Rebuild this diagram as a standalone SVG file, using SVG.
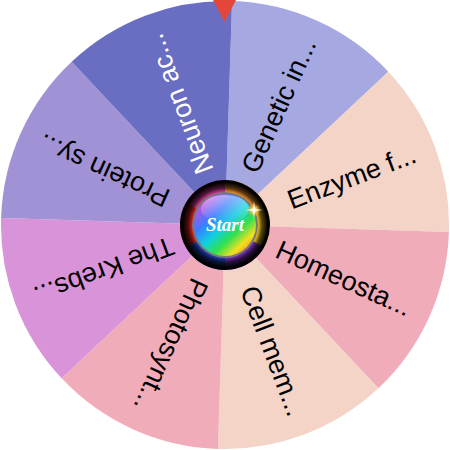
<svg xmlns="http://www.w3.org/2000/svg" width="450" height="450" viewBox="0 0 450 450">
<defs>
<style>
.lbl{font-family:"Liberation Sans",Arial,sans-serif;font-size:27px;text-anchor:end;dominant-baseline:central;fill:#000}
.w{fill:#fff}
</style>
<radialGradient id="ringShade" cx="225" cy="225" r="45" gradientUnits="userSpaceOnUse">
<stop offset="0.72" stop-color="#000" stop-opacity="0"/>
<stop offset="0.82" stop-color="#000" stop-opacity="0.65"/>
<stop offset="0.95" stop-color="#000" stop-opacity="1"/>
</radialGradient>
<linearGradient id="ball" x1="200" y1="198" x2="250" y2="252" gradientUnits="userSpaceOnUse">
<stop offset="0" stop-color="#f040d8"/>
<stop offset="0.3" stop-color="#3a7cff"/>
<stop offset="0.5" stop-color="#10d0e0"/>
<stop offset="0.68" stop-color="#30e050"/>
<stop offset="0.85" stop-color="#f0e020"/>
<stop offset="1" stop-color="#ff8020"/>
</linearGradient>
<linearGradient id="gloss" x1="0" y1="0" x2="0" y2="1">
<stop offset="0" stop-color="#fff" stop-opacity="0.45"/>
<stop offset="1" stop-color="#fff" stop-opacity="0"/>
</linearGradient>
<radialGradient id="spark" cx="0.5" cy="0.5" r="0.5">
<stop offset="0" stop-color="#fff"/>
<stop offset="0.3" stop-color="#ffe070"/>
<stop offset="1" stop-color="#ff9000" stop-opacity="0"/>
</radialGradient>
</defs>
<g id="wheel">
<g id="seg-genetic"><path d="M225 225L232.04 1.11A224 224 0 0 1 388.30 71.67Z" fill="#a5a8e1"/><text class="lbl" transform="translate(225 225) rotate(-65.7)" x="203">Genetic in...</text></g>
<g id="seg-enzyme"><path d="M225 225L388.30 71.67A224 224 0 0 1 448.89 232.04Z" fill="#f3d4c7"/><text class="lbl" transform="translate(225 225) rotate(-20.7)" x="203">Enzyme f...</text></g>
<g id="seg-homeostasis"><path d="M225 225L448.89 232.04A224 224 0 0 1 378.33 388.30Z" fill="#f1acba"/><text class="lbl" transform="translate(225 225) rotate(24.3)" x="203">Homeosta...</text></g>
<g id="seg-cell"><path d="M225 225L378.33 388.30A224 224 0 0 1 217.96 448.89Z" fill="#f3d4c7"/><text class="lbl" transform="translate(225 225) rotate(69.3)" x="203">Cell mem...</text></g>
<g id="seg-photo"><path d="M225 225L217.96 448.89A224 224 0 0 1 61.70 378.33Z" fill="#f1acba"/><text class="lbl" transform="translate(225 225) rotate(114.3)" x="203">Photosynt...</text></g>
<g id="seg-krebs"><path d="M225 225L61.70 378.33A224 224 0 0 1 1.11 217.96Z" fill="#d993d8"/><text class="lbl" transform="translate(225 225) rotate(159.3)" x="203">The Krebs...</text></g>
<g id="seg-protein"><path d="M225 225L1.11 217.96A224 224 0 0 1 71.67 61.70Z" fill="#a192d5"/><text class="lbl" transform="translate(225 225) rotate(204.3)" x="203">Protein sy...</text></g>
<g id="seg-neuron"><path d="M225 225L71.67 61.70A224 224 0 0 1 232.04 1.11Z" fill="#696ec3"/><text class="lbl w" transform="translate(225 225) rotate(249.3)" x="203">Neuron ac...</text></g>
</g>
<g id="hub">
<g transform="translate(225 225)">
<path d="M0 0L0 -45A45 45 0 0 1 38.97 -22.5Z" fill="#ff9a30"/>
<path d="M0 0L38.97 -22.5A45 45 0 0 1 38.97 22.5Z" fill="#ffd020"/>
<path d="M0 0L38.97 22.5A45 45 0 0 1 0 45Z" fill="#8030c0"/>
<path d="M0 0L0 45A45 45 0 0 1 -38.97 22.5Z" fill="#2040c0"/>
<path d="M0 0L-38.97 22.5A45 45 0 0 1 -38.97 -22.5Z" fill="#e02020"/>
<path d="M0 0L-38.97 -22.5A45 45 0 0 1 0 -45Z" fill="#e040a0"/>
</g>
<circle cx="225" cy="225" r="45" fill="url(#ringShade)"/>
<circle cx="225" cy="225" r="33" fill="#777"/>
<circle cx="225" cy="225" r="31" fill="url(#ball)"/>
<ellipse cx="225" cy="209" rx="24" ry="14" fill="url(#gloss)"/>
<circle cx="254" cy="210" r="7" fill="url(#spark)"/>
<path d="M254 201L255 209L263 210L255 211L254 219L253 211L245 210L253 209Z" fill="#fff" opacity="0.9"/>
<text x="225" y="231" text-anchor="middle" font-family="'Liberation Serif',serif" font-style="italic" font-weight="bold" font-size="19" fill="#fff">Start</text>
</g>
<polygon id="pointer" points="213,0 236,0 224.5,22" fill="#e3463a"/>
</svg>
